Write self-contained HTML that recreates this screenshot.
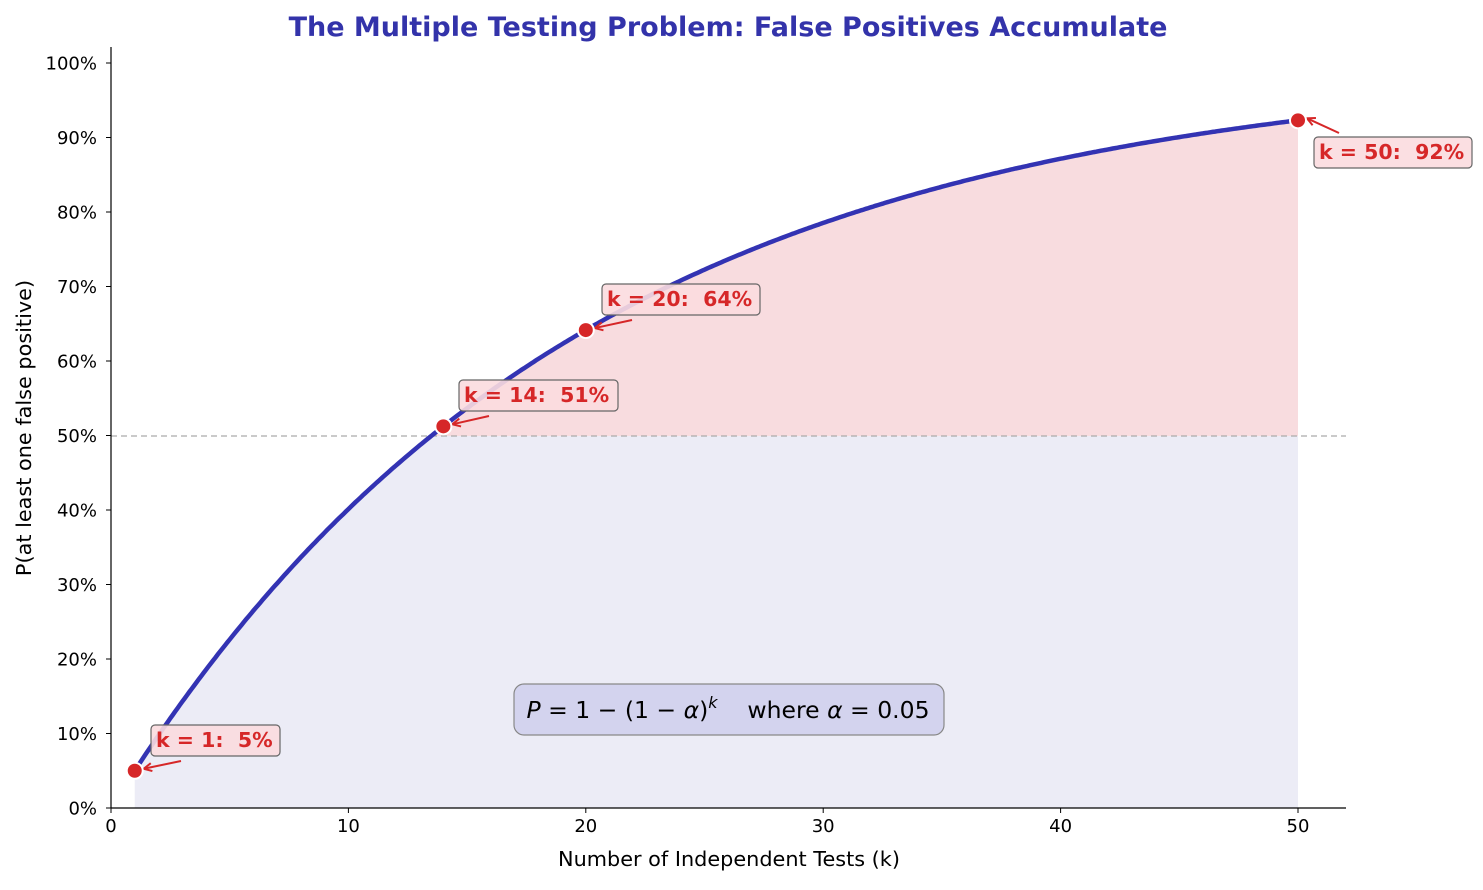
<!DOCTYPE html>
<html><head><meta charset="utf-8"><style>
body{margin:0;background:#fff;}
svg{font-family:"DejaVu Sans","Liberation Sans",sans-serif;}
text{white-space:pre;}
</style></head><body>
<svg id="s" width="1483" height="885" xmlns="http://www.w3.org/2000/svg">
<defs><marker id="ah" markerWidth="10" markerHeight="10" refX="9" refY="5" orient="auto" markerUnits="userSpaceOnUse"><path d="M1,1 L9,5 L1,9" fill="none" stroke="#d62728" stroke-width="2"/></marker></defs>
<rect width="1483" height="885" fill="#fff"/>
<g id="fills"></g>
<line x1="111" y1="436" x2="1346" y2="436" stroke="#aaa" stroke-width="1.3" stroke-dasharray="6,4"/>
<path id="curve" fill="none" stroke="#3333b3" stroke-width="4.5" stroke-linecap="round"/>
<line x1="111" y1="47" x2="111" y2="808" stroke="#000" stroke-width="1.2"/>
<line x1="111" y1="808" x2="1346" y2="808" stroke="#000" stroke-width="1.2"/>
<g id="ticks" font-size="18" fill="#000"></g>
<text x="728" y="36" text-anchor="middle" font-size="27" font-weight="bold" fill="#3333aa">The Multiple Testing Problem: False Positives Accumulate</text>
<text x="729" y="866" text-anchor="middle" font-size="20.8">Number of Independent Tests (k)</text>
<text transform="translate(31,428) rotate(-90)" text-anchor="middle" font-size="20.8">P(at least one false positive)</text>
<rect x="514" y="684" width="430" height="51" rx="10" fill="#d3d3ee" stroke="#888" stroke-width="1.2"/>
<text x="728" y="718" text-anchor="middle" font-size="23.5"><tspan font-style="italic">P</tspan> = 1 − (1 − <tspan font-style="italic">α</tspan>)<tspan font-size="16" dy="-10" font-style="italic">k</tspan><tspan dy="10">    where </tspan><tspan font-style="italic">α</tspan> = 0.05</text>
<g id="ann"></g>
</svg>
<script>
const X=k=>111+k*23.74, Y=p=>808-p*745;
const P=k=>1-Math.pow(0.95,k);
let pts=[];
for(let i=0;i<=490;i++){const k=1+i*0.1;pts.push([X(k),Y(P(k))]);}
let d="M"+pts.map(p=>p[0].toFixed(1)+","+p[1].toFixed(1)).join("L");
document.getElementById("curve").setAttribute("d",d);
const k50=Math.log(0.5)/Math.log(0.95);
let low="M"+X(1)+",808";pts.forEach(p=>{low+="L"+p[0].toFixed(1)+","+Math.max(p[1],436).toFixed(1);});low+="L"+X(50)+",808Z";
let hi="M"+X(k50).toFixed(1)+",436";pts.forEach((p,i)=>{const k=1+i*0.1;if(k>k50)hi+="L"+p[0].toFixed(1)+","+p[1].toFixed(1);});hi+="L"+X(50)+",436Z";
document.getElementById("fills").innerHTML=`<path d="${low}" fill="#ececf6"/><path d="${hi}" fill="#f8dcdf"/>`;
let t="";
for(let v=0;v<=50;v+=10){t+=`<line x1="${X(v)}" y1="808" x2="${X(v)}" y2="813" stroke="#000"/><text x="${X(v)}" y="832" text-anchor="middle">${v}</text>`;}
for(let v=0;v<=100;v+=10){const y=Y(v/100);t+=`<line x1="106" y1="${y}" x2="111" y2="${y}" stroke="#000"/><text x="97" y="${y+6.5}" text-anchor="end">${v}%</text>`;}
document.getElementById("ticks").innerHTML=t;
const A=[[1,151,725,129,"k = 1:  5%"],[14,459,380,159,"k = 14:  51%"],[20,602,284,158,"k = 20:  64%"],[50,1314,137,158,"k = 50:  92%"]];
let a="";
A.forEach(([k,bx,by,w,s])=>{const px=X(k),py=Y(P(k));
a+=`<rect x="${bx}" y="${by}" width="${w}" height="31" rx="4" fill="#fbdcdf" fill-opacity="0.9" stroke="#666" stroke-width="1.2"/>`;
a+=`<text x="${bx+5}" y="${by+22}" font-size="20.5" font-weight="bold" fill="#d62728">${s}</text>`;
a+=`<line x1="${k==50?bx+25:bx+30}" y1="${k==50?by-4:by+36}" x2="${px+9}" y2="${py-2}" stroke="#d62728" stroke-width="2" marker-end="url(#ah)"/>`;
a+=`<circle cx="${px}" cy="${py}" r="8" fill="#d62728" stroke="#fff" stroke-width="2"/>`;});
document.getElementById("ann").innerHTML=a;
</script>
</body></html>
